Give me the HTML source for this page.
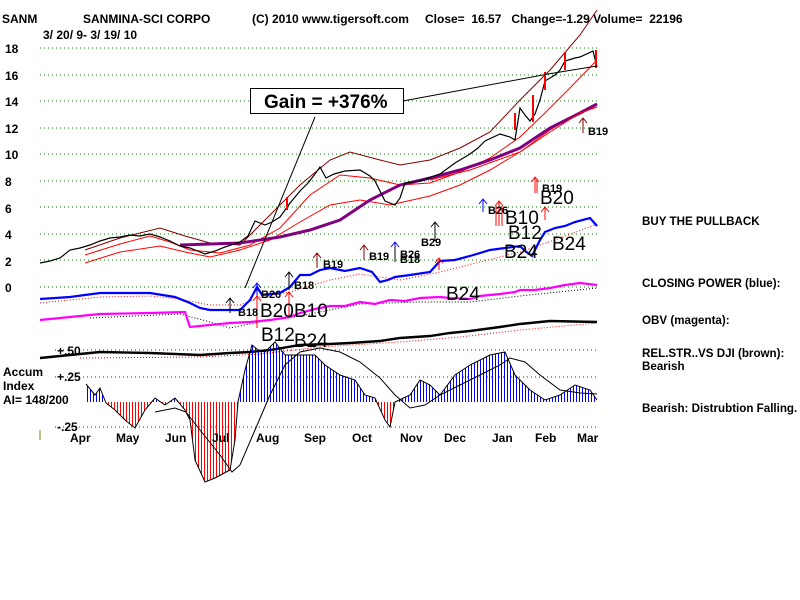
<!DOCTYPE html>
<html><head><meta charset="utf-8"><style>
html,body{margin:0;padding:0;background:#fff;width:800px;height:600px;overflow:hidden}
svg{display:block;font-family:"Liberation Sans",sans-serif}
.b{font-weight:bold;font-size:12px}
.s{font-weight:bold;font-size:11px}
.L{font-size:19px}
.r{font-weight:bold;font-size:11.6px}
</style></head><body>
<svg width="800" height="600" viewBox="0 0 800 600" xmlns="http://www.w3.org/2000/svg">
<defs>
<pattern id="pb" width="3" height="10" patternUnits="userSpaceOnUse"><rect x="0" y="0" width="1" height="10" fill="#0000ff"/></pattern>
<pattern id="pr" width="3" height="10" patternUnits="userSpaceOnUse"><rect x="0" y="0" width="1" height="10" fill="#ff0000"/></pattern>
<clipPath id="up"><rect x="0" y="0" width="800" height="402"/></clipPath>
<clipPath id="dn"><rect x="0" y="402" width="800" height="200"/></clipPath>
</defs>
<text x="2" y="23" class="b">SANM</text>
<text x="83" y="23" class="b">SANMINA-SCI CORPO</text>
<text x="252" y="23" class="b">(C) 2010 www.tigersoft.com</text>
<text x="425" y="23" class="b">Close=&#160; 16.57&#160;&#160; Change=-1.29 Volume=&#160; 22196</text>
<text x="43" y="39" class="b">3/ 20/ 9- 3/ 19/ 10</text>
<g class="b">
<text x="5" y="53">18</text><text x="5" y="80">16</text><text x="5" y="106">14</text>
<text x="5" y="133">12</text><text x="5" y="159">10</text><text x="5" y="186">8</text>
<text x="5" y="213">6</text><text x="5" y="239">4</text><text x="5" y="266">2</text>
<text x="5" y="292">0</text>
</g>
<g stroke="#008000" stroke-dasharray="1,3" stroke-width="1">
<line x1="40" y1="48" x2="597" y2="48"/><line x1="40" y1="75" x2="597" y2="75"/>
<line x1="40" y1="101" x2="597" y2="101"/><line x1="40" y1="128" x2="597" y2="128"/>
<line x1="40" y1="154" x2="597" y2="154"/><line x1="40" y1="181" x2="597" y2="181"/>
<line x1="40" y1="207" x2="597" y2="207"/><line x1="40" y1="234" x2="597" y2="234"/>
<line x1="40" y1="260" x2="597" y2="260"/><line x1="40" y1="287" x2="597" y2="287"/>
</g>
<g stroke="#800080" stroke-dasharray="1,3" stroke-width="1">
<line x1="55" y1="350" x2="597" y2="350"/><line x1="55" y1="377" x2="597" y2="377"/><line x1="55" y1="427" x2="597" y2="427"/>
</g>
<polyline fill="none" stroke="#800000" stroke-width="1" points="85,250 120,238 160,228 185,236 210,243 240,245 270,215 300,185 330,160 350,152 380,160 400,165 430,160 460,148 490,132 520,100 550,70 580,35 597,10"/>
<polyline fill="none" stroke="#ff0000" stroke-width="1" points="85,255 120,244 150,236 170,242 190,250 220,253 250,245 280,228 310,195 340,175 370,178 400,185 430,183 460,172 490,158 520,137 545,113 570,88 597,60"/>
<polyline fill="none" stroke="#ff0000" stroke-width="1" points="85,263 120,252 160,246 185,252 210,257 240,250 270,240 300,222 330,205 360,200 390,205 430,196 460,185 490,170 520,152 550,130 580,112 597,105"/>
<polyline fill="none" stroke="#800080" stroke-width="3" points="180,245 240,243 280,237 310,230 340,220 370,200 400,185 430,178 460,170 490,160 520,148 550,128 580,113 597,104"/>
<polyline fill="none" stroke="#ff0000" stroke-width="1" points="430,180 470,170 520,152 550,132 580,113 597,107"/>
<polyline fill="none" stroke="#000" stroke-width="1.2" points="40,263 50,261 60,258 70,250 80,248 90,245 100,241 110,238 120,237 130,235 140,236 150,234 160,237 170,241 180,246 190,248 200,252 205,254 215,251 225,247 240,242 248,236 255,221 265,225 272,222 280,217 290,203 300,191 308,183 315,174 320,167 326,178 334,174 345,171 360,170 370,176 375,181 385,201 395,205 400,198 405,183 420,181 440,174 455,163 470,154 478,148 485,141 500,134 510,137 515,140 520,108 525,115 530,121 535,114 540,100 545,81 550,78 555,75 560,70 565,61 575,58 580,57 593,51 597,67"/>
<g stroke="#ff0000" stroke-width="2"><line x1="515" y1="113" x2="515" y2="130"/><line x1="545" y1="72" x2="545" y2="90"/><line x1="565" y1="52" x2="565" y2="70"/><line x1="596" y1="50" x2="596" y2="68"/><line x1="287" y1="197" x2="287" y2="210"/><line x1="533" y1="95" x2="533" y2="122"/></g>
<line x1="315" y1="117" x2="245" y2="288" stroke="#000" stroke-width="1"/>
<polyline fill="none" stroke="#000" stroke-width="1" points="403,101 548,74 597,66"/>
<rect x="250.5" y="88.5" width="153" height="25" fill="#fff" stroke="#000"/>
<text x="264" y="108" font-size="19" font-weight="bold">Gain = +376%</text>
<polyline fill="none" stroke="#ff0000" stroke-dasharray="1,2" stroke-width="1" points="40,303 100,297 150,296 180,299 210,305 240,305 260,297 290,292 330,280 360,274 400,280 440,272 480,262 520,252 560,238 597,224"/>
<polyline fill="none" stroke="#0000ff" stroke-width="2.2" points="40,299 70,297 100,293 150,293 175,297 190,303 200,308 210,310 240,310 250,300 257,287 262,295 280,293 290,287 300,275 310,275 320,270 330,268 345,271 360,268 372,272 380,282 388,280 395,277 410,275 430,272 440,261 455,260 470,256 490,250 505,248 520,246 525,251 532,256 540,240 545,232 555,228 565,226 575,222 590,218 597,226"/>
<polyline fill="none" stroke="#000" stroke-dasharray="1,2" stroke-width="1" points="90,318 180,314 210,322 230,328 260,322 300,316 360,304 420,302 470,302 520,296 597,288"/>
<polyline fill="none" stroke="#ff00ff" stroke-width="2.2" points="40,320 70,317 100,314 150,313 185,312 190,327 230,323 250,322 270,320 290,317 300,313 315,309 330,306 345,306 360,302 375,304 390,300 405,301 420,298 440,297 450,298 470,299 480,296 500,294 515,292 520,290 535,290 550,288 565,285 580,283 597,285"/>
<polyline fill="none" stroke="#ff0000" stroke-dasharray="1,2" stroke-width="1" points="80,358 200,357 260,354 320,347 400,342 460,337 520,330 597,323"/>
<polyline fill="none" stroke="#000" stroke-width="2.4" points="40,358 70,355 100,352 150,353 200,355 230,353 250,352 270,350 300,345 330,344 350,343 380,341 400,338 430,336 450,333 470,331 500,327 520,324 550,321 597,322"/>
<text x="57" y="355" class="b">+.50</text>
<text x="57" y="381" class="b">+.25</text>
<text x="57" y="431" class="b">-.25</text>
<text x="3" y="376" class="b">Accum</text>
<text x="3" y="390" class="b">Index</text>
<text x="3" y="404" class="b">AI= 148/200</text>
<line x1="40" y1="430" x2="40" y2="440" stroke="#808000" stroke-width="1"/>
<g>
<polygon points="86,402 86,384 95,395 100,388 106,403 115,410 125,420 135,428 145,410 155,398 165,405 175,398 185,410 190,420 195,460 205,482 215,478 230,470 235,440 238,402 245,370 252,345 258,350 265,352 275,342 285,355 300,355 315,355 325,365 340,375 355,380 365,395 375,398 385,420 390,427 395,402 410,395 420,380 430,385 440,395 455,375 470,365 490,355 505,352 515,375 530,390 545,400 560,395 575,385 590,390 597,400 597,402" fill="url(#pb)" clip-path="url(#up)"/>
<polygon points="86,402 86,384 95,395 100,388 106,403 115,410 125,420 135,428 145,410 155,398 165,405 175,398 185,410 190,420 195,460 205,482 215,478 230,470 235,440 238,402 245,370 252,345 258,350 265,352 275,342 285,355 300,355 315,355 325,365 340,375 355,380 365,395 375,398 385,420 390,427 395,402 410,395 420,380 430,385 440,395 455,375 470,365 490,355 505,352 515,375 530,390 545,400 560,395 575,385 590,390 597,400 597,402" fill="url(#pr)" clip-path="url(#dn)"/>
<polyline fill="none" stroke="#000" stroke-width="1" points="86,384 95,395 100,388 106,403 115,410 125,420 135,428 145,410 155,398 165,405 175,398 185,410 190,420 195,460 205,482 215,478 230,470 235,440 238,402 245,370 252,345 258,350 265,352 275,342 285,355 300,355 315,355 325,365 340,375 355,380 365,395 375,398 385,420 390,427 395,402 410,395 420,380 430,385 440,395 455,375 470,365 490,355 505,352 515,375 530,390 545,400 560,395 575,385 590,390 597,400"/>
<polyline fill="none" stroke="#000" stroke-width="1" points="155,412 175,408 186,412 200,430 220,455 232,472 240,465 255,430 270,395 285,365 300,352 320,348 340,352 360,362 380,378 395,395 410,408 425,405 440,395 460,385 480,375 500,365 510,358 525,362 540,375 560,390 580,393 597,394"/>
</g>
<g class="b" font-size="12">
<text x="70" y="442">Apr</text><text x="116" y="442">May</text><text x="165" y="442">Jun</text>
<text x="212" y="442">Jul</text><text x="256" y="442">Aug</text><text x="304" y="442">Sep</text>
<text x="352" y="442">Oct</text><text x="400" y="442">Nov</text><text x="444" y="442">Dec</text>
<text x="492" y="442">Jan</text><text x="535" y="442">Feb</text><text x="577" y="442">Mar</text>
</g>
<g fill="none" stroke-width="1">
<path stroke="#000" d="M230 313V298M226 303L230 298L234 303"/>
<path stroke="#0000ff" d="M257 305V283M253 288L257 283L261 288"/>
<path stroke="#ff0000" d="M257 328V296M253 301L257 296L261 301"/>
<path stroke="#000" d="M289 290V272M285 277L289 272L293 277"/>
<path stroke="#ff0000" d="M289 318V292M285 297L289 292L293 297"/>
<path stroke="#800000" d="M317 268V253M313 258L317 253L321 258"/>
<path stroke="#800000" d="M364 260V245M360 250L364 245L368 250"/>
<path stroke="#0000ff" d="M395 258V242M391 247L395 242L399 247"/>
<path stroke="#000" d="M395 262V246"/>
<path stroke="#000" d="M435 241V222M431 227L435 222L439 227"/>
<path stroke="#ff0000" d="M439 270V258M435 263L439 258L443 263"/>
<path stroke="#0000ff" d="M483 212V199M479 204L483 199L487 204"/>
<path stroke="#ff0000" d="M499 226V201M495 206L499 201L503 206M496 226V206M502 226V206"/>
<path stroke="#ff0000" d="M535 193V177M531 182L535 177L539 182M537 193V180"/>
<path stroke="#ff0000" d="M545 220V207M541 212L545 207L549 212"/>
<path stroke="#800000" d="M583 133V118M579 123L583 118L587 123"/>
</g>
<g class="s">
<text x="238" y="316">B18</text><text x="261" y="298">B26</text><text x="294" y="289">B18</text>
<text x="323" y="268">B19</text><text x="369" y="260">B19</text><text x="400" y="258">B26</text>
<text x="400" y="263">B18</text><text x="421" y="246">B29</text><text x="488" y="214">B26</text>
<text x="542" y="192">B19</text><text x="588" y="135">B19</text>
</g>
<g class="L">
<text x="260" y="317">B20</text><text x="294" y="317">B10</text><text x="261" y="341">B12</text>
<text x="294" y="347">B24</text><text x="446" y="300">B24</text><text x="505" y="224">B10</text>
<text x="540" y="204">B20</text><text x="508" y="239">B12</text><text x="504" y="258">B24</text>
<text x="552" y="250">B24</text>
</g>
<g class="r">
<text x="642" y="225">BUY THE PULLBACK</text>
<text x="642" y="287">CLOSING POWER (blue):</text>
<text x="642" y="324">OBV (magenta):</text>
<text x="642" y="357">REL.STR..VS DJI (brown):</text>
<text x="642" y="370">Bearish</text>
<text x="642" y="412">Bearish: Distrubtion Falling.</text>
</g>
</svg>
</body></html>
